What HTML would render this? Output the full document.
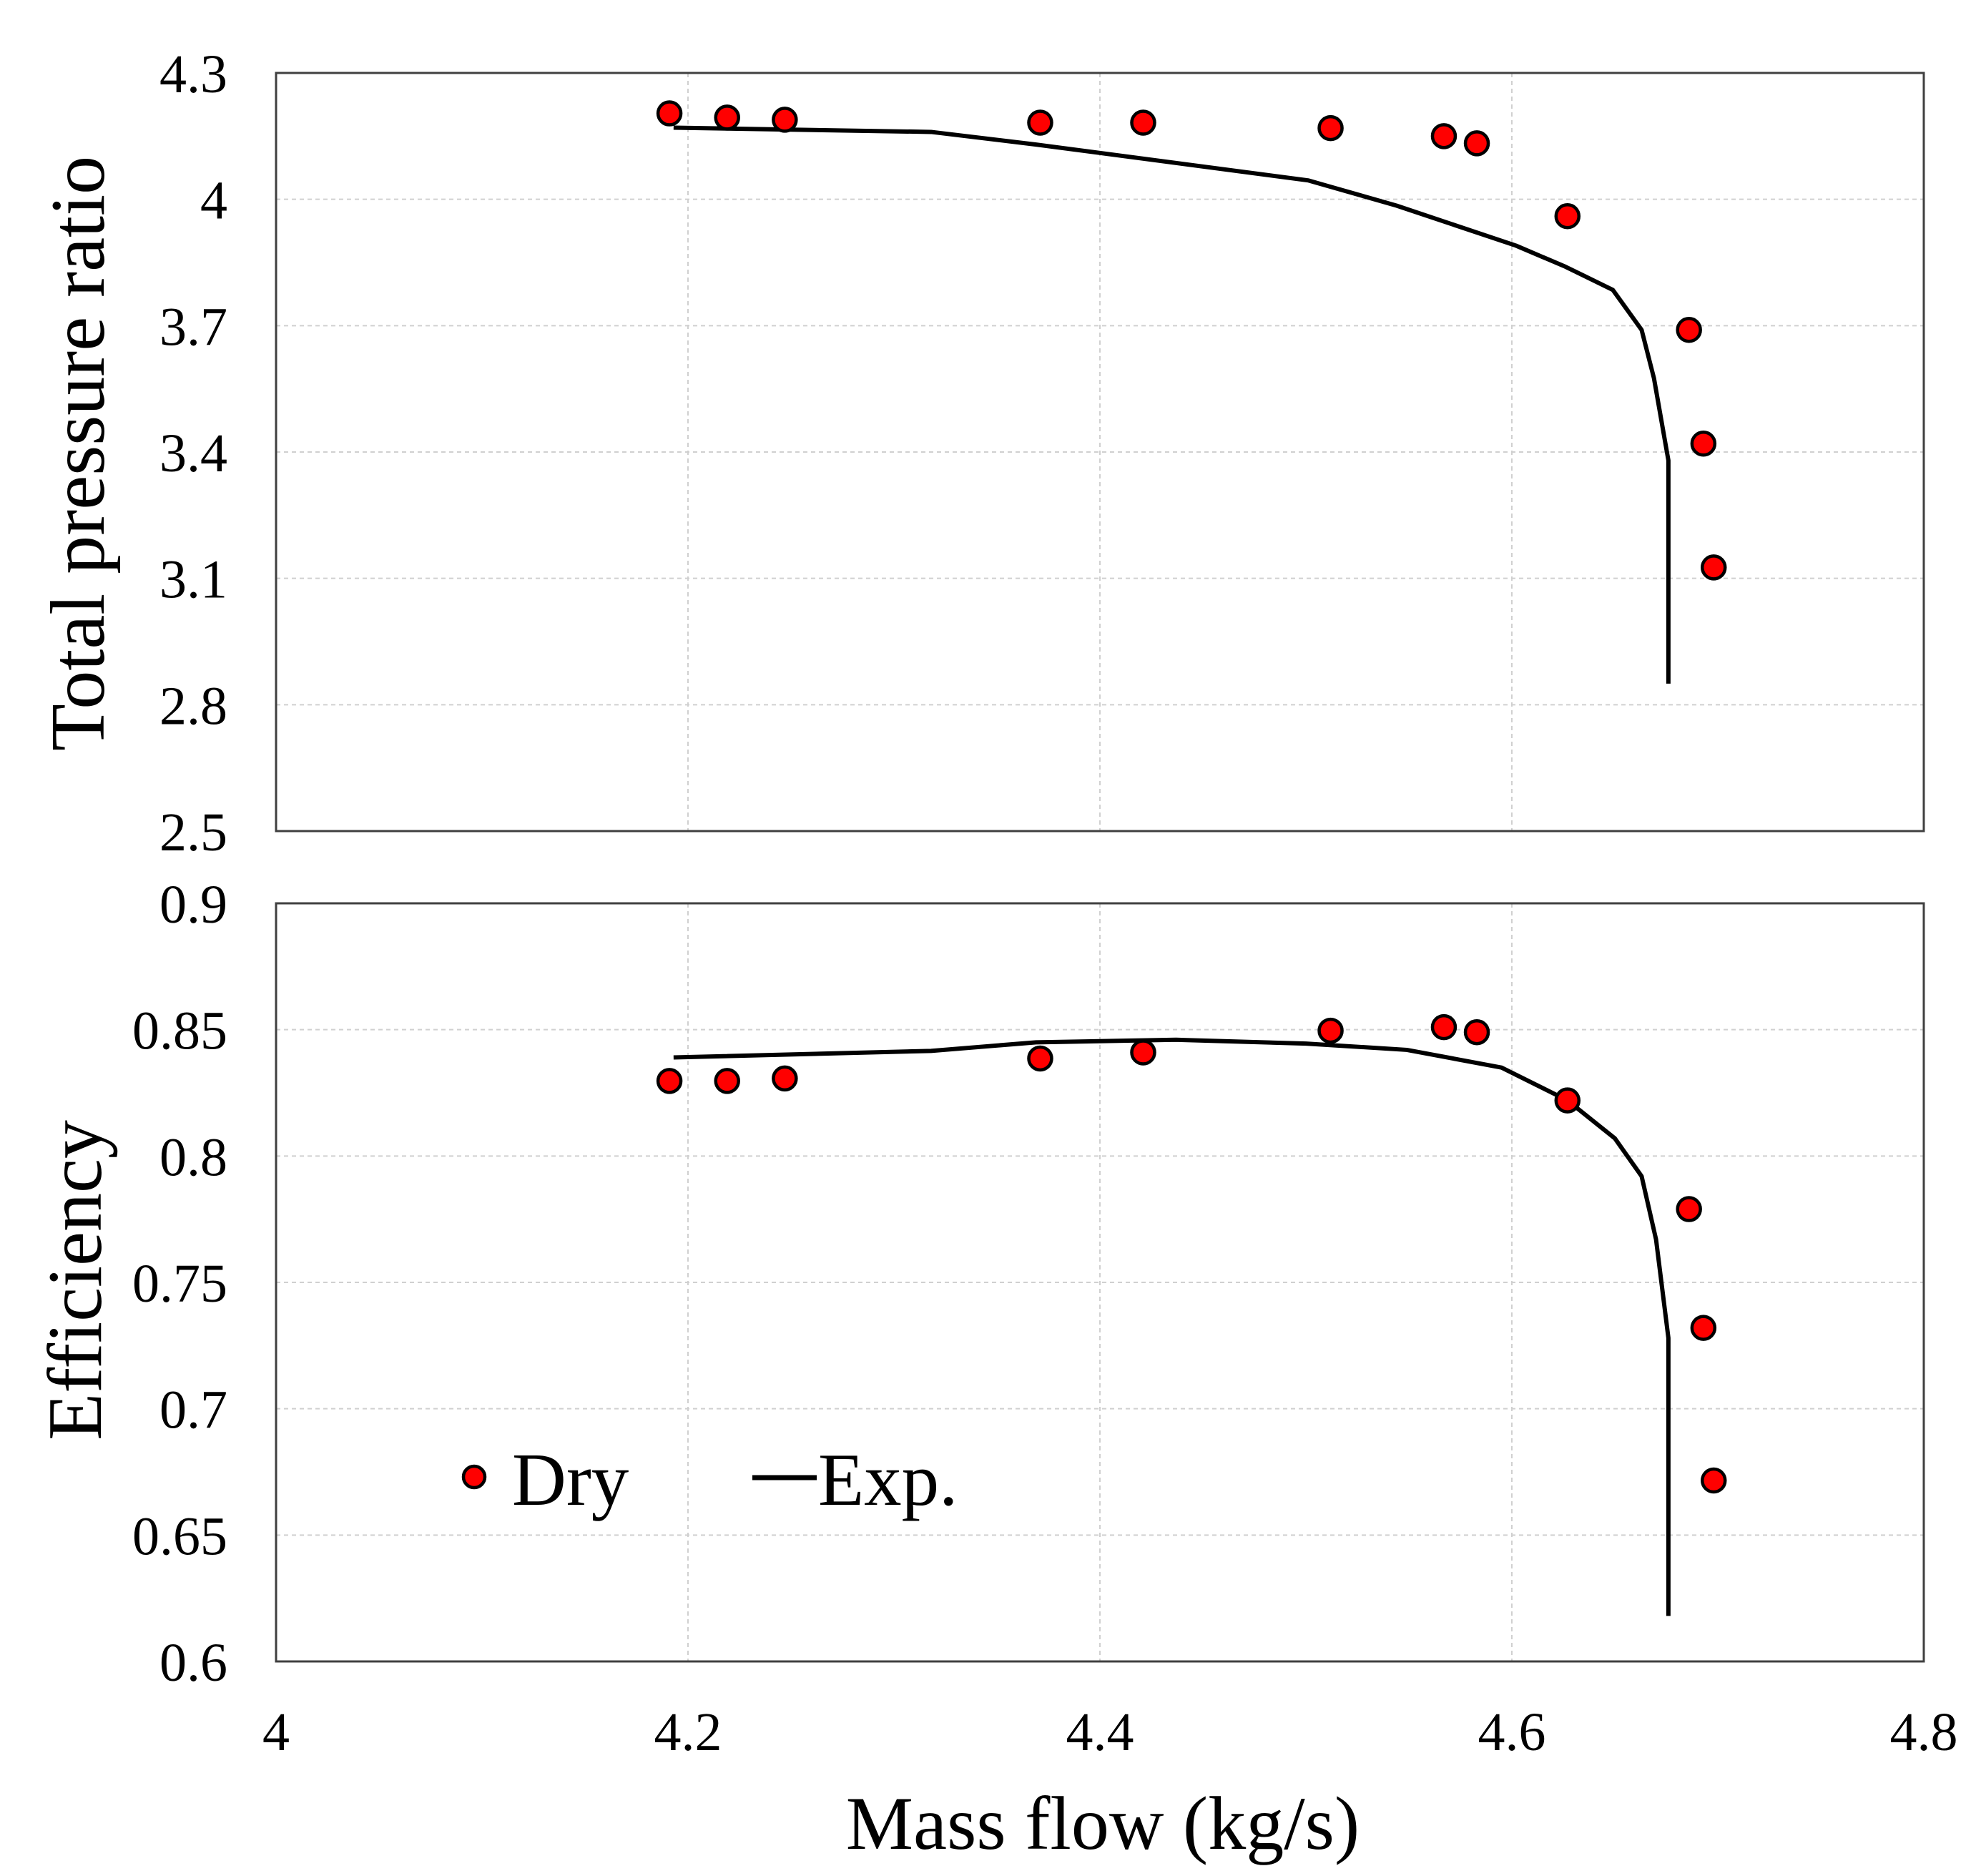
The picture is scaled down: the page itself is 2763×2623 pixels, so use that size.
<!DOCTYPE html>
<html><head><meta charset="utf-8"><style>
html,body{margin:0;padding:0;background:#fff;}
svg{display:block;font-family:"Liberation Serif",serif;}
</style></head><body>
<svg id="chart" width="2763" height="2623" viewBox="0 0 2763 2623" xmlns="http://www.w3.org/2000/svg"></svg>
<script>
const xTicks=[4,4.2,4.4,4.6,4.8];
const xTickLabels=["4","4.2","4.4","4.6","4.8"];
const prTicks=[2.5,2.8,3.1,3.4,3.7,4,4.3];
const prTickLabels=["2.5","2.8","3.1","3.4","3.7","4","4.3"];
const effTicks=[0.6,0.65,0.7,0.75,0.8,0.85,0.9];
const effTickLabels=["0.6","0.65","0.7","0.75","0.8","0.85","0.9"];
const dryFlow=[4.191,4.219,4.247,4.371,4.421,4.512,4.567,4.583,4.627,4.686,4.693,4.698];
const dryPR=[4.204,4.194,4.189,4.182,4.182,4.169,4.150,4.133,3.960,3.690,3.420,3.126];
const dryEff=[0.8297,0.8297,0.8307,0.8386,0.841,0.8496,0.851,0.849,0.822,0.779,0.732,0.6716];
const expFlowPR=[4.193,4.318,4.369,4.501,4.544,4.602,4.626,4.649,4.663,4.669,4.676,4.676];
const expPR=[4.17,4.16,4.13,4.045,3.985,3.89,3.84,3.785,3.69,3.575,3.38,2.85];
const expFlowEff=[4.193,4.318,4.369,4.437,4.50,4.549,4.595,4.627,4.650,4.663,4.670,4.676,4.676];
const expEff=[0.839,0.8416,0.845,0.846,0.8445,0.842,0.835,0.822,0.807,0.792,0.767,0.728,0.618];

const NS="http://www.w3.org/2000/svg";
const svg=document.getElementById('chart');
function mk(t,a,p){const e=document.createElementNS(NS,t);for(const k in a)e.setAttribute(k,a[k]);(p||svg).appendChild(e);return e;}
const X0=386,X1=2690;
const xS=v=>X0+(v-4)/(0.8)*(X1-X0);
const panels=[
 {top:102,bot:1162,min:2.5,max:4.3,ticks:prTicks,labels:prTickLabels,dry:dryPR,ex:expFlowPR,ey:expPR,name:'pressure-ratio',title:'Total pressure  ratio',tx:110,ty:634},
 {top:1263,bot:2323,min:0.6,max:0.9,ticks:effTicks,labels:effTickLabels,dry:dryEff,ex:expFlowEff,ey:expEff,name:'efficiency',title:'Efficiency',tx:106,ty:1790}
];
panels.forEach(p=>{
 const yS=v=>p.bot-(v-p.min)/(p.max-p.min)*(p.bot-p.top);
 const g=mk('g',{});
 
 
 p.ticks.forEach((t,i)=>{
  const y=yS(t);
  if(i>0&&i<p.ticks.length-1){const l=mk('line',{x1:X0,x2:X1,y1:y,y2:y,stroke:'#d0d0d0','stroke-width':2,'stroke-dasharray':'6,5'},g);
   
   }
  const tx=mk('text',{x:318,y:y+27,'text-anchor':'end','font-size':76,fill:'#000'},g);
  tx.textContent=p.labels[i];
  
  
 });
 xTicks.forEach((t,i)=>{ if(i>0&&i<xTicks.length-1){const x=xS(t);
  const l=mk('line',{x1:x,x2:x,y1:p.top,y2:p.bot,stroke:'#d0d0d0','stroke-width':2,'stroke-dasharray':'6,5'},g);
  
  }});
 const fr=mk('rect',{x:X0,y:p.top,width:X1-X0,height:p.bot-p.top,fill:'none',stroke:'#404040','stroke-width':3},g);
 
 
 const pts=p.ex.map((x,i)=>xS(x)+','+yS(p.ey[i])).join(' ');
 const pl=mk('polyline',{points:pts,fill:'none',stroke:'#000','stroke-width':6,'stroke-linejoin':'round'},g);
 
 
 dryFlow.forEach((x,i)=>{
  const c=mk('circle',{cx:xS(x),cy:yS(p.dry[i]),r:16,fill:'#ff0000',stroke:'#000','stroke-width':4.5},g);
  
  
 });
 const t=mk('text',{x:p.tx+35,y:p.ty,'text-anchor':'middle','font-size':108,fill:'#000',transform:'rotate(-90 '+(p.tx+35)+' '+p.ty+')'},g);
 t.setAttribute('xml:space','preserve');
 t.textContent=p.title;
 
 
});
xTicks.forEach((t,i)=>{
 const tx=mk('text',{x:xS(t),y:2447,'text-anchor':'middle','font-size':76,fill:'#000'});
 tx.textContent=xTickLabels[i];
 
 
});
const xt=mk('text',{x:1542,y:2585,'text-anchor':'middle','font-size':106,fill:'#000'});
xt.setAttribute('xml:space','preserve');
xt.textContent='Mass  flow (kg/s)';


const lg=mk('g',{});


const ld=mk('circle',{cx:663,cy:2065,r:15,fill:'#ff0000',stroke:'#000','stroke-width':4.5},lg);


const lt1=mk('text',{x:716,y:2104,'font-size':105,fill:'#000'},lg);
lt1.textContent='Dry';


const ll=mk('line',{x1:1052,x2:1142,y1:2066,y2:2066,stroke:'#000','stroke-width':7},lg);


const lt2=mk('text',{x:1144,y:2104,'font-size':105,fill:'#000'},lg);
lt2.textContent='Exp.';


</script>
</body></html>
